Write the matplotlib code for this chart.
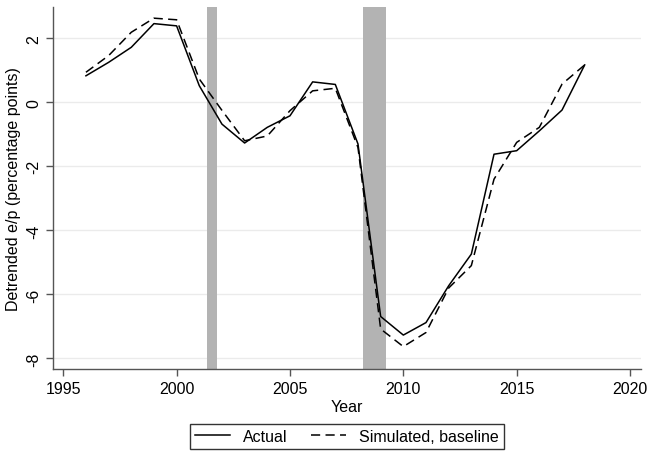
import matplotlib
matplotlib.use("Agg")
import matplotlib.pyplot as plt
import numpy as np

plt.rcParams['font.family'] = ['Liberation Sans', 'DejaVu Sans']

years = list(range(1996, 2019))
actual = [0.83, 1.25, 1.72, 2.46, 2.39, 0.52, -0.68, -1.27, -0.78, -0.42,
          0.64, 0.56, -1.30, -6.69, -7.27, -6.88, -5.73, -4.74, -1.62, -1.51,
          -0.89, -0.24, 1.17]
simulated = [0.94, 1.46, 2.19, 2.63, 2.58, 0.73, -0.25, -1.20, -1.05, -0.26,
             0.36, 0.44, -1.41, -7.08, -7.63, -7.19, -5.80, -5.10, -2.40, -1.25,
             -0.78, 0.57, 1.17]
recessions = [(2001.33, 2001.80), (2008.20, 2009.25)]

fig = plt.figure(figsize=(6.49, 4.56), dpi=100)
ax = fig.add_axes([0.0821, 0.1886, 0.9051, 0.7932])

for start, end in recessions:
    ax.axvspan(start, end, color='#b3b3b3', lw=0, zorder=1)

ax.plot(years, actual, color='black', lw=1.1, label='Actual', zorder=3)
ax.plot(years, simulated, color='black', lw=1.1, ls=(0, (6, 3.5)),
        label='Simulated, baseline', zorder=3)

ax.set_xlim(1994.56, 2020.47)
ax.set_ylim(-8.33, 2.97)
ax.set_xticks([1995, 2000, 2005, 2010, 2015, 2020])
ax.set_yticks([-8, -6, -4, -2, 0, 2])
ax.set_yticklabels(['-8', '-6', '-4', '-2', '0', '2'], rotation=90, va='center')
ax.grid(axis='y', color='#ebebeb', lw=1)
ax.set_axisbelow(True)
ax.tick_params(labelsize=11.5, color='#555555', length=5, width=1)

for side in ['top', 'right']:
    ax.spines[side].set_visible(False)
for side in ['left', 'bottom']:
    ax.spines[side].set_color('#555555')
    ax.spines[side].set_linewidth(1)

ax.set_xlabel('Year', fontsize=11.5, labelpad=2)
ax.set_ylabel('Detrended e/p (percentage points)', fontsize=11.5, labelpad=4)

leg = ax.legend(loc='upper center', bbox_to_anchor=(0.5, -0.152), ncol=2,
                fontsize=11.5, frameon=True, fancybox=False, edgecolor='black',
                handlelength=2.2, columnspacing=1.5, borderpad=0.3,
                borderaxespad=0)
leg.get_frame().set_linewidth(1)

fig.savefig('out.png', dpi=100)
